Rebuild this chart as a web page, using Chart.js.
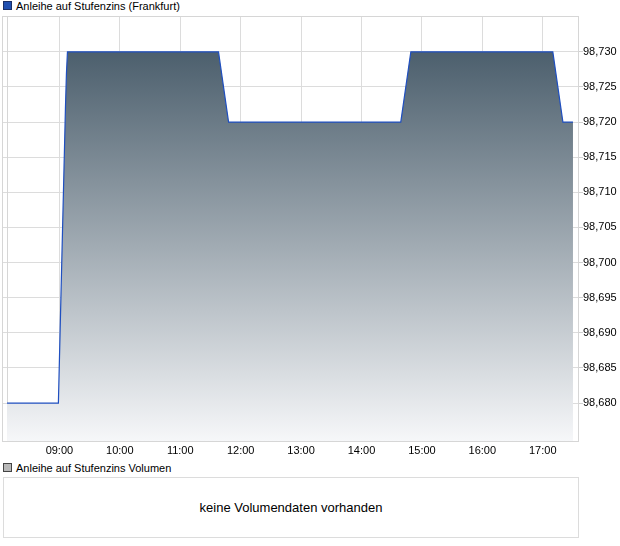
<!DOCTYPE html>
<html>
<head>
<meta charset="utf-8">
<script src="https://cdn.jsdelivr.net/npm/chart.js@4/dist/chart.umd.min.js"></script>
<style>
  html, body { margin: 0; padding: 0; background: #fff; }
  body { width: 620px; height: 546px; position: relative; overflow: hidden;
         font-family: "Liberation Sans", Arial, sans-serif; color: #000; }
  .legend { position: absolute; left: 3px; font-size: 11px; line-height: 12px; white-space: nowrap; }
  .legend .sq { display: inline-block; width: 7px; height: 7px; border: 1px solid #333; vertical-align: 0px; margin-right: 4px; }
  #chartWrap { position: absolute; left: 0; top: 0; width: 620px; height: 460px; }
  #volBox { position: absolute; left: 3px; top: 477px; width: 574px; height: 59px; border: 1px solid #dcdcdc;
            font-size: 13px; text-align: center; line-height: 59px; }
</style>
</head>
<body>
<div class="legend" style="top:0px;"><span class="sq" style="background:#1f4fb0;border-color:#1a2f66;"></span>Anleihe auf Stufenzins (Frankfurt)</div>
<div id="chartWrap"><canvas id="c" width="620" height="460"></canvas></div>
<div class="legend" style="top:462px;"><span class="sq" style="background:#b8b8b8;border-color:#444;"></span>Anleihe auf Stufenzins Volumen</div>
<div id="volBox">keine Volumendaten vorhanden</div>
<script>
// ---- data ----
const times  = ["08:08","08:59","09:06","09:07","09:08","11:38","11:48","14:39","14:49","17:10","17:20","17:30"];
const prices = [98.680, 98.680, 98.722, 98.727, 98.730, 98.730, 98.720, 98.720, 98.730, 98.730, 98.720, 98.720];
const xTickLabels = ["09:00","10:00","11:00","12:00","13:00","14:00","15:00","16:00","17:00"];
const yTickValues = [98.680, 98.685, 98.690, 98.695, 98.700, 98.705, 98.710, 98.715, 98.720, 98.725, 98.730];
const xRange = ["08:03","17:35"];
const yRange = [98.6746, 98.7351];

const toMin = s => { const [h, m] = s.split(":").map(Number); return h * 60 + m; };
const pts = times.map((t, i) => ({ x: toMin(t), y: prices[i] }));
const fmtTime = v => { const h = Math.floor(v / 60), m = v % 60; return String(h).padStart(2, "0") + ":" + String(m).padStart(2, "0"); };
const fmtNum = v => v.toFixed(3).replace(".", ",");

const frame = {
  id: "frame",
  beforeDatasetsDraw(chart) {
    const { ctx, chartArea: a, scales } = chart;
    ctx.save();
    ctx.strokeStyle = "#d6d6d6";
    ctx.lineWidth = 1;
    ctx.strokeRect(Math.round(a.left) + 0.5, Math.round(a.top) + 0.5, Math.round(a.right - a.left), Math.round(a.bottom - a.top));
    const xs = Math.round(scales.x.getPixelForValue(pts[0].x)) + 0.5;
    ctx.beginPath(); ctx.moveTo(xs, a.top); ctx.lineTo(xs, a.bottom); ctx.stroke();
    ctx.restore();
  }
};

const ctx = document.getElementById("c").getContext("2d");
new Chart(ctx, {
  type: "line",
  data: {
    datasets: [{
      data: pts,
      borderColor: "#1f4fc0",
      borderWidth: 1.2,
      pointRadius: 0,
      tension: 0,
      fill: "start",
      backgroundColor: (c) => {
        const { chart } = c;
        const a = chart.chartArea;
        if (!a) return "rgba(100,115,125,0.8)";
        const yTop = chart.scales.y.getPixelForValue(Math.max(...prices));
        const g = chart.ctx.createLinearGradient(0, yTop, 0, a.bottom);
        g.addColorStop(0, "rgb(76,95,109)");
        g.addColorStop(1, "rgb(246,247,249)");
        return g;
      }
    }]
  },
  options: {
    responsive: false,
    animation: false,
    events: [],
    layout: { padding: { left: 2, top: 16, right: 0, bottom: 0 } },
    plugins: { legend: { display: false }, tooltip: { enabled: false } },
    scales: {
      x: {
        type: "linear",
        min: toMin(xRange[0]),
        max: toMin(xRange[1]),
        afterBuildTicks: (s) => { s.ticks = xTickLabels.map(t => ({ value: toMin(t) })); },
        afterFit: (s) => { s.height = 19; },
        ticks: { callback: (v) => fmtTime(v), color: "#000", font: { family: "Liberation Sans, Arial", size: 11 }, padding: 3, maxRotation: 0, autoSkip: false },
        grid: { color: "#dcdcdc", drawTicks: false },
        border: { color: "#d6d6d6" }
      },
      y: {
        position: "right",
        min: yRange[0],
        max: yRange[1],
        afterBuildTicks: (s) => { s.ticks = yTickValues.map(v => ({ value: v })); },
        afterFit: (s) => { s.width = 42; },
        ticks: { callback: (v) => fmtNum(v), color: "#000", font: { family: "Liberation Sans, Arial", size: 11 }, padding: 0, autoSkip: false },
        grid: { color: "#dcdcdc", tickLength: 5, tickColor: "#d0d0d0" },
        border: { color: "#d6d6d6" }
      }
    }
  },
  plugins: [frame]
});
</script>
</body>
</html>
